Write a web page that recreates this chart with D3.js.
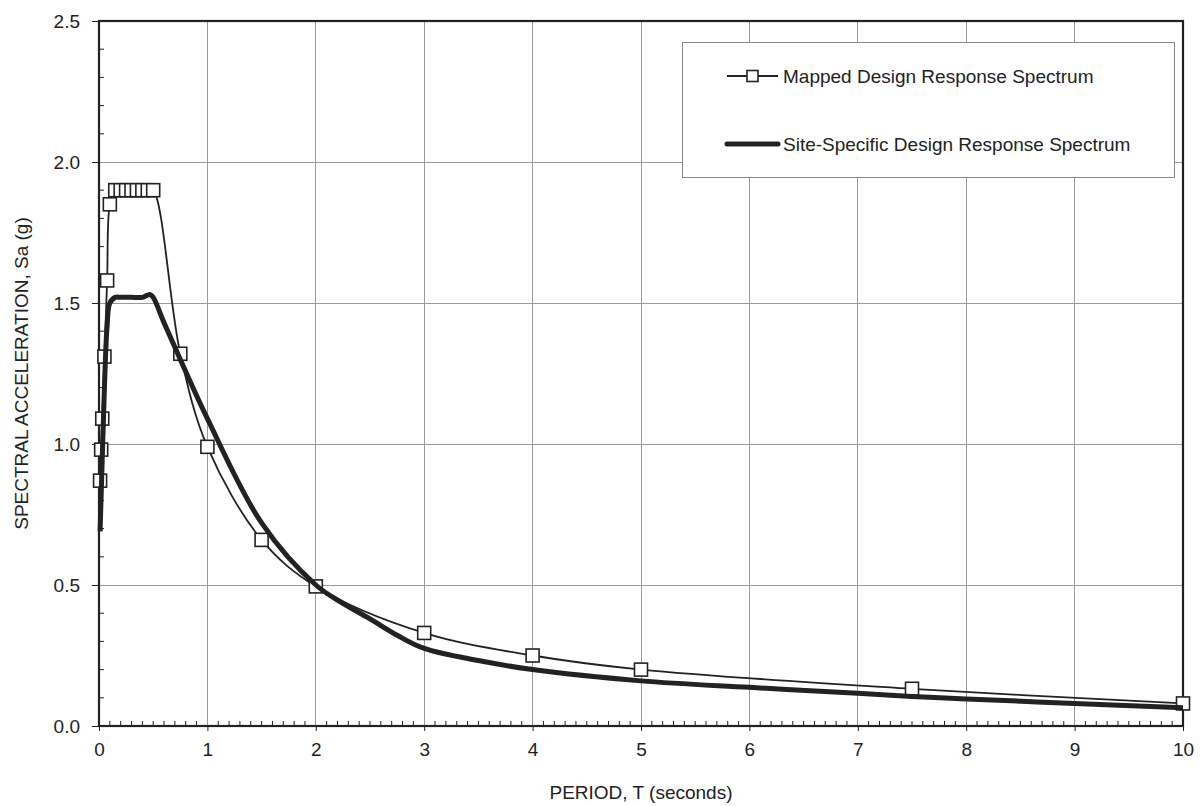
<!DOCTYPE html>
<html>
<head>
<meta charset="utf-8">
<script src="https://cdn.jsdelivr.net/npm/d3@7"></script>
<style>
  html, body { margin: 0; padding: 0; background: #fff; }
  svg { display: block; font-family: "Liberation Sans", Arial, sans-serif; }
</style>
</head>
<body>
<svg id="chart" width="1202" height="806"></svg>
<script>
// Mapped design response spectrum (with square markers)
const mappedT  = [0.01, 0.02, 0.03, 0.05, 0.075, 0.1, 0.15, 0.2, 0.25, 0.3, 0.35, 0.4, 0.45, 0.5, 0.75, 1.0, 1.5, 2.0, 3.0, 4.0, 5.0, 7.5, 10.0];
const mappedSa = [0.87, 0.98, 1.09, 1.31, 1.58, 1.85, 1.90, 1.90, 1.90, 1.90, 1.90, 1.90, 1.90, 1.90, 1.32, 0.99, 0.66, 0.495, 0.33, 0.25, 0.20, 0.132, 0.08];

// Site-specific design response spectrum (thick line)
const siteT  = [0.01, 0.03, 0.05, 0.075, 0.1, 0.15, 0.2, 0.3, 0.4, 0.47, 0.5, 0.6, 0.75, 1.0, 1.5, 2.0, 2.25, 2.5, 2.75, 3.0, 3.5, 4.0, 5.0, 6.0, 7.0, 7.5, 8.0, 9.0, 10.0];
const siteSa = [0.69, 0.95, 1.20, 1.42, 1.50, 1.52, 1.52, 1.52, 1.52, 1.53, 1.52, 1.43, 1.30, 1.09, 0.72, 0.50, 0.435, 0.38, 0.322, 0.275, 0.232, 0.20, 0.16, 0.137, 0.116, 0.105, 0.096, 0.08, 0.065];

const xTicks = [0, 1, 2, 3, 4, 5, 6, 7, 8, 9, 10];
const yTicks = [0.0, 0.5, 1.0, 1.5, 2.0, 2.5];
const seriesNames = ["Mapped Design Response Spectrum", "Site-Specific Design Response Spectrum"];
const xTitle = "PERIOD, T (seconds)";
const yTitle = "SPECTRAL ACCELERATION, Sa (g)";

const svg = d3.select("#chart");
const L = 99, R = 1183, T = 21, B = 726;
const x = d3.scaleLinear().domain([0, 10]).range([L, R]);
const y = d3.scaleLinear().domain([0, 2.5]).range([B, T]);
const ink = "#222";
const fs = 19;

// gridlines
const grid = svg.append("g");
grid.selectAll("line.vx").data(xTicks.slice(1, -1)).join("line")
  .attr("x1", d => x(d)).attr("x2", d => x(d)).attr("y1", T).attr("y2", B)
  .attr("stroke", "#9a9a9a").attr("stroke-width", 1).attr("shape-rendering", "crispEdges");
grid.selectAll("line.hy").data(yTicks.slice(1, -1)).join("line")
  .attr("y1", d => y(d)).attr("y2", d => y(d)).attr("x1", L).attr("x2", R)
  .attr("stroke", "#9a9a9a").attr("stroke-width", 1).attr("shape-rendering", "crispEdges");

// minor ticks (inside)
const minorX = d3.range(0, 101).map(i => i / 10).filter(v => Math.abs(v - Math.round(v)) > 1e-6);
svg.append("g").selectAll("line").data(minorX).join("line")
  .attr("x1", d => x(d)).attr("x2", d => x(d)).attr("y1", B).attr("y2", B - 5)
  .attr("stroke", ink).attr("stroke-width", 1);
const minorY = d3.range(0, 26).map(i => i / 10).filter(v => Math.abs(v * 2 - Math.round(v * 2)) > 1e-6);
svg.append("g").selectAll("line").data(minorY).join("line")
  .attr("y1", d => y(d)).attr("y2", d => y(d)).attr("x1", L).attr("x2", L + 5)
  .attr("stroke", ink).attr("stroke-width", 1);

// axes
const xAxis = d3.axisBottom(x).tickValues(xTicks).tickFormat(d3.format("d")).tickSizeInner(5).tickSizeOuter(0).tickPadding(12);
const gx = svg.append("g").attr("transform", `translate(0,${B})`).call(xAxis);
const yAxis = d3.axisLeft(y).tickValues(yTicks).tickFormat(d3.format(".1f")).tickSizeInner(7).tickSizeOuter(0).tickPadding(12);
const gy = svg.append("g").attr("transform", `translate(${L},0)`).call(yAxis);
[gx, gy].forEach(g => {
  g.select(".domain").remove();
  g.selectAll(".tick line").attr("stroke", ink).attr("stroke-width", 1);
  g.selectAll(".tick text").attr("fill", ink).style("font-size", fs + "px").style("font-family", '"Liberation Sans", Arial, sans-serif');
});

// frame
svg.append("rect").attr("x", L).attr("y", T).attr("width", R - L).attr("height", B - T)
  .attr("fill", "none").attr("stroke", ink).attr("stroke-width", 2.2);

// lines
const lineGen = d3.line().x(d => x(d[0])).y(d => y(d[1])).curve(d3.curveCatmullRom.alpha(0.5));
const mappedData = mappedT.map((t, i) => [t, mappedSa[i]]);
const siteData = siteT.map((t, i) => [t, siteSa[i]]);

svg.append("path").datum(mappedData).attr("d", lineGen)
  .attr("fill", "none").attr("stroke", ink).attr("stroke-width", 1.8);

const ms = 13;
svg.append("g").selectAll("rect").data(mappedData).join("rect")
  .attr("x", d => x(d[0]) - ms / 2).attr("y", d => y(d[1]) - ms / 2)
  .attr("width", ms).attr("height", ms)
  .attr("fill", "#fff").attr("stroke", ink).attr("stroke-width", 1.6);

svg.append("path").datum(siteData).attr("d", lineGen)
  .attr("fill", "none").attr("stroke", ink).attr("stroke-width", 5).attr("stroke-linejoin", "round");

// legend
const lg = svg.append("g");
lg.append("rect").attr("x", 682.5).attr("y", 42.5).attr("width", 492).attr("height", 135)
  .attr("fill", "#fff").attr("stroke", "#888").attr("stroke-width", 1);
const rows = [76, 144];
lg.append("line").attr("x1", 727).attr("x2", 778).attr("y1", rows[0]).attr("y2", rows[0])
  .attr("stroke", ink).attr("stroke-width", 1.8);
lg.append("rect").attr("x", 752.5 - 5.5).attr("y", rows[0] - 5.5).attr("width", 11).attr("height", 11)
  .attr("fill", "#fff").attr("stroke", ink).attr("stroke-width", 1.6);
lg.append("line").attr("x1", 727).attr("x2", 778).attr("y1", rows[1]).attr("y2", rows[1])
  .attr("stroke", ink).attr("stroke-width", 5).attr("stroke-linecap", "round");
lg.selectAll("text").data(seriesNames).join("text")
  .attr("x", 783).attr("y", (d, i) => rows[i]).attr("dy", "0.35em")
  .attr("fill", ink).style("font-size", fs + "px").text(d => d);

// axis titles
svg.append("text").attr("x", (L + R) / 2).attr("y", 799).attr("text-anchor", "middle")
  .attr("fill", ink).style("font-size", fs + "px").text(xTitle);
svg.append("text").attr("transform", `translate(28,${(T + B) / 2}) rotate(-90)`).attr("text-anchor", "middle")
  .attr("fill", ink).style("font-size", fs + "px").text(yTitle);
</script>
</body>
</html>
